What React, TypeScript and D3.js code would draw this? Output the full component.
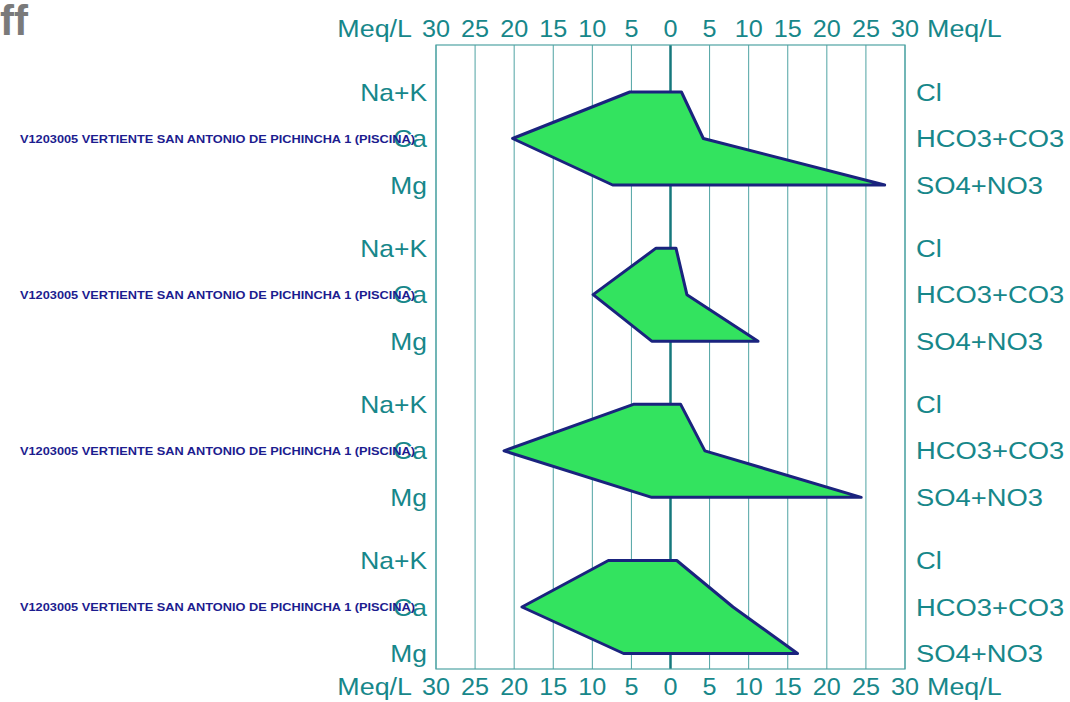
import React from 'react';
import * as d3 from 'd3';

// Stiff diagram data (meq/L), one entry per sample
const samples = [
  'V1203005 VERTIENTE SAN ANTONIO DE PICHINCHA 1 (PISCINA) a',
  'V1203005 VERTIENTE SAN ANTONIO DE PICHINCHA 1 (PISCINA) b',
  'V1203005 VERTIENTE SAN ANTONIO DE PICHINCHA 1 (PISCINA) c',
  'V1203005 VERTIENTE SAN ANTONIO DE PICHINCHA 1 (PISCINA) d',
];
const sampleLabel = 'V1203005 VERTIENTE SAN ANTONIO DE PICHINCHA 1 (PISCINA)';

const cationNames = ['Na+K', 'Ca', 'Mg'];
const anionNames = ['Cl', 'HCO3+CO3', 'SO4+NO3'];

const naK = [5.2, 1.85, 4.75, 7.95];
const ca = [20.2, 9.9, 21.3, 19.0];
const mg = [7.4, 2.4, 2.4, 6.0];
const cl = [1.4, 0.7, 1.3, 0.8];
const hco3 = [4.2, 2.1, 4.4, 8.0];
const so4 = [27.4, 11.2, 24.4, 16.25];

const tickValues = [-30, -25, -20, -15, -10, -5, 0, 5, 10, 15, 20, 25, 30];

const W = 1070;
const H = 702;
const teal = '#17878a';
const gridColor = '#4fa3a3';

// wide-ish label text, stretched horizontally like the original renderer
const Wide = ({ x, y, anchor, sx = 1.13, size = 24, dy, children }: any) => (
  <text transform={`translate(${x},${y}) scale(${sx},1)`} dy={dy} textAnchor={anchor}
    fontSize={size} fill={teal}>{children}</text>
);

export default function App() {
  const x = d3.scaleLinear().domain([-30, 30]).range([436, 905]);
  const yGroup = d3.scalePoint<string>().domain(samples).range([138.5, 607]);
  const yRow = d3.scalePoint<string>().domain(cationNames).range([-46.5, 46.5]);
  const boxTop = 45;
  const boxBottom = 669;

  const line = d3.line<[number, number]>().x(d => x(d[0])).y(d => d[1]);

  return (
    <div style={{ position: 'absolute', left: 0, top: 0 }}>
      <svg width={W} height={H} style={{ display: 'block', fontFamily: 'Liberation Sans, Arial, sans-serif' }}>
        <rect width={W} height={H} fill="#fff" />
        <text x={0} y={35} fontSize={42} fontWeight="bold" fill="#7a7a7a">ff</text>

        {/* grid */}
        {tickValues.map(t => (
          <line key={t} x1={x(t)} x2={x(t)} y1={boxTop} y2={boxBottom}
            stroke={t === 0 ? '#16787c' : gridColor} strokeWidth={t === 0 ? 2.5 : 1} />
        ))}
        <rect x={x(-30)} y={boxTop} width={x(30) - x(-30)} height={boxBottom - boxTop}
          fill="none" stroke={gridColor} strokeWidth={1.2} />

        {/* axis labels top and bottom */}
        {[37, 695].map(by => (
          <g key={by}>
            <Wide x={x(-30) - 24} y={by} anchor="end" sx={1.12}>Meq/L</Wide>
            {tickValues.map(t => (
              <Wide key={t} x={x(t)} y={by} anchor="middle" sx={1.05}>{Math.abs(t)}</Wide>
            ))}
            <Wide x={x(30) + 22} y={by} anchor="start" sx={1.12}>Meq/L</Wide>
          </g>
        ))}

        {samples.map((s, i) => {
          const yc = yGroup(s) as number;
          const ys = cationNames.map(n => yc + (yRow(n) as number));
          const pts: [number, number][] = [
            [-naK[i], ys[0]], [-ca[i], ys[1]], [-mg[i], ys[2]],
            [so4[i], ys[2]], [hco3[i], ys[1]], [cl[i], ys[0]],
          ];
          return (
            <g key={s}>
              <path d={line(pts) + 'Z'} fill="#33e35f" stroke="#1a237e" strokeWidth={3} strokeLinejoin="round" />
              {cationNames.map((n, k) => (
                <Wide key={n} x={427} y={ys[k]} dy="0.36em" anchor="end" sx={1.1}>{n}</Wide>
              ))}
              {anionNames.map((n, k) => (
                <Wide key={n} x={916} y={ys[k]} dy="0.36em" anchor="start" sx={1.14}>{n}</Wide>
              ))}
              <text x={20} y={ys[1] + 4} fontSize={11.5} fontWeight="bold" fill="#1c1c8f"
                textLength={395} lengthAdjust="spacingAndGlyphs">{sampleLabel}</text>
            </g>
          );
        })}
      </svg>
    </div>
  );
}
